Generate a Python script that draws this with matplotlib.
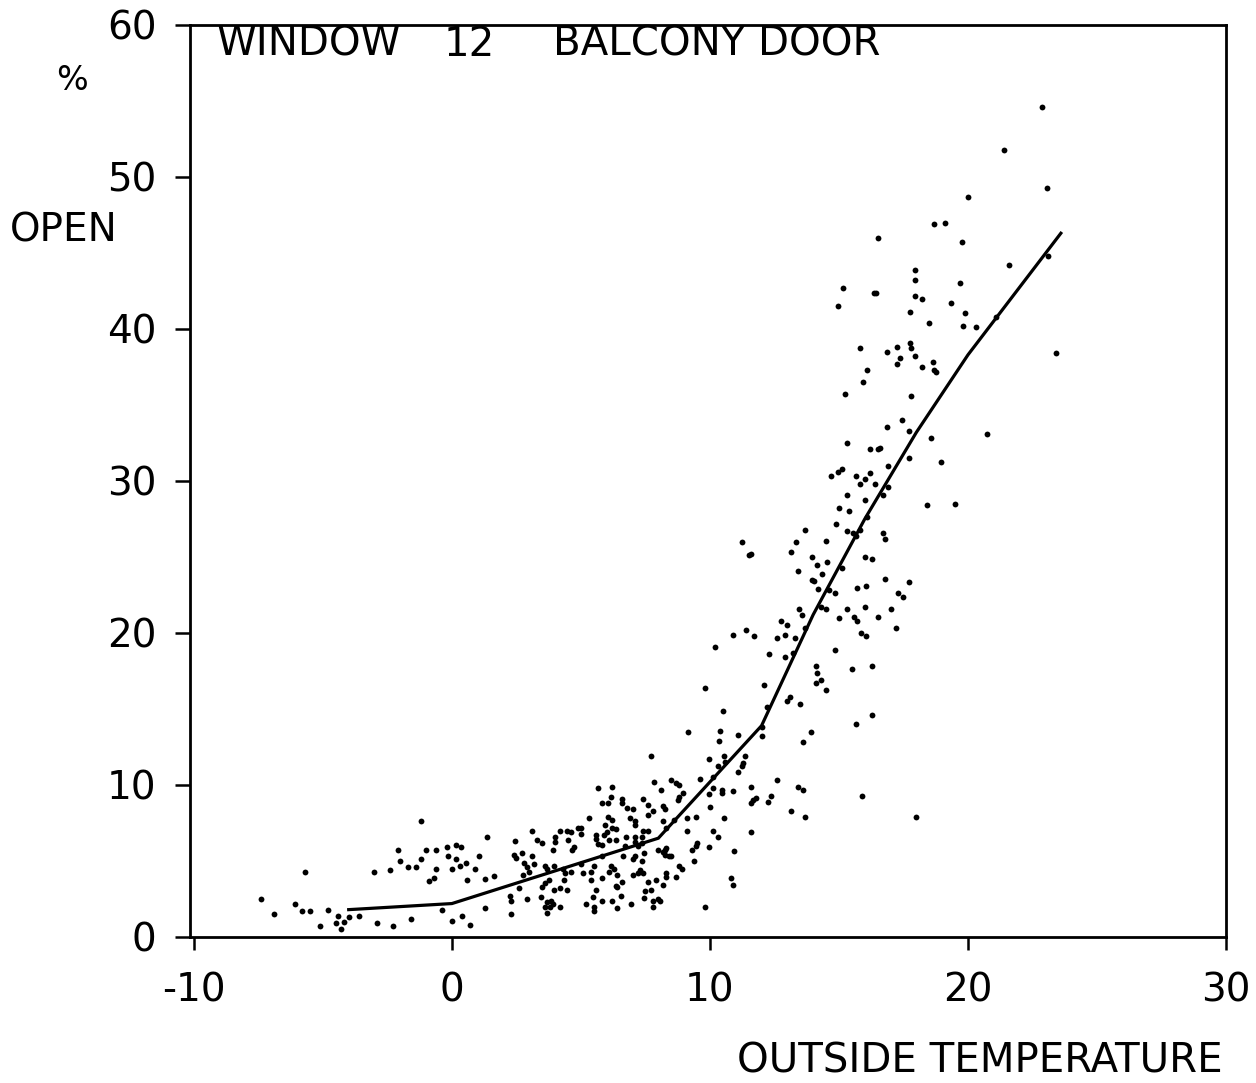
import matplotlib
matplotlib.use("Agg")
import matplotlib.pyplot as plt

# scatter: outside temperature (C) vs. share of time the window is open (%)
temp = [
    -7.4, -6.9, -6.1, -5.8, -5.5, -5.7, -4.8, -4.4, -4.5, -4.2, -4.3, -4.0, -5.1, -3.6, -2.9, -2.3, -1.6,
    -3.0, -2.4, -2.1, -2.0, -1.7, -1.4, -1.2, -1.0, -1.2, -0.6, -0.6, -0.9, -0.7, -0.2, 0.15, 0.35, -0.15,
    0.15, 0.0, 0.3, 0.55, 0.6, 0.9, 1.05, 1.35, 1.3, 1.65, -0.4, 0.0, 0.4, 0.7, 1.3, 2.3, 2.25, 2.3, 2.9, 2.6,
    2.45, 3.1, 2.4, 2.5, 2.7, 2.8, 2.9, 3.3, 3.5, 3.1, 3.2, 2.75, 3.0, 3.6, 3.5, 3.7, 3.6, 3.95, 3.45, 3.7,
    3.6, 3.85, 3.7, 3.9, 4.2, 3.95, 4.2, 4.0, 4.0, 3.9, 4.2, 4.45, 4.6, 4.5, 4.75, 4.65, 4.3, 4.6, 4.4, 5.0,
    5.0, 5.3, 5.6, 5.6, 5.65, 5.8, 5.9, 5.65, 6.2, 5.8, 6.05, 6.15, 5.95, 6.2, 6.2, 6.35, 6.1, 6.35, 6.6, 6.6,
    6.8, 7.0, 6.9, 7.1, 7.1, 6.75, 6.7, 7.1, 7.1, 7.2, 7.35, 7.4, 7.6, 7.8, 7.6, 7.7, 7.85, 8.1, 8.2, 7.4, 7.6,
    7.35, 7.45, 7.1, 7.35, 7.0, 7.2, 7.4, 7.6, 7.9, 7.5, 7.45, 8.05, 6.95, 6.4, 6.4, 6.55, 6.6, 6.4, 6.1, 5.4,
    5.8, 5.4, 5.6, 5.45, 5.5, 5.5, 5.1, 5.0, 5.5, 6.15, 6.3, 8.25, 8.2, 8.3, 8.25, 8.25,
    4.35, 4.45, 3.75, 3.8, 4.9, 5.8, 6.0, 6.05, 5.8, 7.7, 7.8, 7.8, 6.2, 5.2, 6.65, 7.3,
    8.6, 8.3, 8.4, 8.5, 8.2, 8.0, 8.8, 8.9, 8.7, 8.3, 8.3, 8.2, 8.0, 7.0, 6.35,
    8.5, 8.7, 8.8, 8.8, 8.75, 8.95, 9.95, 10.0, 10.1, 10.45, 10.45, 10.9, 11.6, 11.65, 11.8, 11.6, 12.35,
    12.25, 12.6, 13.4, 13.6, 13.15, 13.7, 15.9, 18.0, 10.55, 11.6, 9.1, 9.45, 9.1, 10.1, 10.3, 9.5, 9.45,
    9.3, 9.95, 9.4, 10.95, 10.8, 10.9, 9.8,
    9.95, 10.55, 10.6, 11.35, 11.3, 11.25, 11.1, 10.3, 10.1, 9.6,
    9.15, 10.4, 10.35, 11.1, 12.0, 12.0, 13.9, 13.6, 15.65, 16.3, 10.5, 12.2, 13.5, 13.1, 13.0, 9.8, 12.1,
    14.1, 14.15, 14.3, 14.1, 14.5, 15.5, 16.3, 14.85, 12.3, 12.9, 13.2, 10.2, 10.9, 11.4, 11.7, 12.6, 12.9,
    13.3, 13.7, 12.75, 13.0, 13.45, 13.55, 14.3, 14.5, 15.0, 15.3, 15.6, 15.7, 16.0, 16.5, 17.0, 17.2,
    15.85, 16.05,
    16.85, 17.35, 17.25, 17.95, 18.2, 18.65, 18.7, 18.75, 16.1, 15.95, 15.25, 17.8, 17.45, 16.85, 17.7,
    18.55, 18.95, 15.3, 16.2, 16.5, 16.6, 17.7, 16.9, 15.1, 14.95, 14.7, 15.65, 16.0, 16.2, 15.8, 16.4,
    16.9, 16.7, 15.3, 16.0, 15.0, 15.4, 18.4, 14.9, 16.1, 13.7, 15.3, 15.8, 15.65, 15.55, 16.7, 16.8,
    13.35, 14.5, 13.15, 13.95, 14.55, 14.15, 13.4, 15.1, 16.0, 16.3, 14.35, 13.95, 14.05, 16.8, 17.7,
    14.2, 14.6, 14.85, 15.7, 16.05, 17.3, 17.5, 11.6, 11.25, 11.5,
    22.85, 21.4, 23.05, 20.0, 18.7, 19.1, 16.5, 19.75, 21.6, 23.1, 17.95, 17.95, 19.7, 15.15, 16.35,
    16.45, 14.95, 17.95, 18.2, 19.35, 19.9, 17.75, 19.8, 20.3, 21.1, 18.5, 23.4, 15.8, 17.25, 17.75,
    17.8, 20.75, 19.5,
]
open_pct = [
    2.5, 1.5, 2.2, 1.7, 1.7, 4.3, 1.8, 1.4, 0.9, 1.0, 0.5, 1.3, 0.7, 1.4, 0.9, 0.7, 1.2,
    4.3, 4.4, 5.7, 5.0, 4.6, 4.6, 7.6, 5.7, 5.1, 5.7, 4.5, 3.7, 3.9, 5.9, 6.05, 5.9, 5.3,
    5.1, 4.5, 4.7, 4.9, 3.75, 4.5, 5.3, 6.6, 3.8, 4.0, 1.8, 1.05, 1.4, 0.8, 1.9, 1.5, 2.7, 2.4, 2.5, 3.2,
    6.3, 7.0, 5.4, 5.2, 5.5, 4.9, 4.6, 6.4, 6.2, 5.3, 4.8, 4.1, 4.3, 3.55, 3.3, 4.5, 4.7, 4.7, 2.6, 2.3,
    2.0, 2.4, 1.6, 2.2, 2.0, 3.1, 3.2, 6.6, 6.25, 5.7, 7.0, 7.0, 6.9, 6.4, 5.9, 5.7, 4.5, 4.3, 4.2, 7.2,
    6.8, 7.8, 6.7, 6.45, 6.1, 6.05, 6.7, 9.8, 9.9, 8.8, 8.8, 9.2, 7.4, 7.7, 7.2, 7.1, 6.4, 6.4, 9.1, 8.8,
    8.5, 8.4, 7.8, 7.6, 7.4, 6.6, 6.0, 6.6, 6.25, 6.0, 6.2, 9.1, 8.7, 8.3, 8.0, 11.9, 10.2, 9.7, 8.6, 7.0, 7.0,
    6.6, 5.5, 5.3, 5.0, 5.1, 4.2, 4.2, 3.6, 3.75, 3.0, 2.55, 2.4, 2.2, 1.9, 3.3, 2.7, 3.6, 4.1, 4.3, 4.3,
    3.9, 3.75, 3.1, 2.6, 2.0, 1.7, 4.2, 4.8, 4.7, 4.7, 4.5, 8.4, 7.6, 7.2, 5.7, 5.4,
    3.75, 3.1, 3.75, 2.0, 7.2, 5.3, 6.9, 7.9, 2.4, 3.1, 2.4, 2.0, 2.4, 2.2, 5.3, 4.4,
    7.7, 5.85, 5.3, 5.3, 5.6, 5.7, 4.7, 4.5, 3.95, 4.2, 3.95, 3.4, 2.5, 4.1, 3.35,
    10.3, 10.1, 10.0, 9.2, 9.0, 9.5, 9.4, 8.55, 9.8, 9.7, 9.5, 9.6, 9.9, 9.0, 9.15, 8.8, 9.3,
    8.9, 10.3, 9.9, 9.7, 8.3, 7.9, 9.3, 7.9, 7.8, 6.9, 7.8, 7.9, 7.0, 7.0, 6.6, 6.2, 6.0,
    5.7, 5.9, 5.0, 5.65, 3.9, 3.4, 2.0,
    11.7, 11.9, 11.5, 11.9, 11.45, 11.25, 10.85, 11.25, 10.5, 10.4,
    13.5, 13.55, 12.9, 13.3, 13.8, 13.2, 13.5, 12.8, 14.0, 14.6, 14.9, 15.1, 15.3, 15.8, 15.5, 16.4, 16.6,
    17.8, 17.4, 16.9, 16.7, 16.25, 17.6, 17.8, 18.9, 18.6, 18.4, 18.7, 19.1, 19.9, 20.2, 19.8, 19.7, 19.9,
    19.7, 20.3, 20.8, 20.5, 21.6, 21.2, 21.7, 21.6, 21.0, 21.6, 21.05, 20.8, 21.7, 21.05, 21.6, 20.3,
    20.0, 19.8,
    38.5, 38.1, 37.7, 38.2, 37.5, 37.8, 37.3, 37.2, 37.3, 36.5, 35.7, 35.6, 34.0, 33.55, 33.3,
    32.8, 31.25, 32.5, 32.1, 32.1, 32.2, 31.5, 31.0, 30.8, 30.6, 30.3, 30.3, 30.1, 30.5, 29.8, 29.8,
    29.6, 29.1, 29.1, 28.75, 28.2, 28.0, 28.4, 27.2, 27.6, 26.8, 26.7, 26.8, 26.4, 26.6, 26.6, 26.2,
    26.0, 26.05, 25.3, 25.0, 24.7, 24.5, 24.1, 24.3, 25.0, 24.9, 23.9, 23.5, 23.4, 23.55, 23.35,
    22.9, 22.8, 22.6, 22.95, 23.1, 22.6, 22.4, 25.2, 26.0, 25.1,
    54.6, 51.8, 49.3, 48.7, 46.9, 47.0, 46.0, 45.7, 44.2, 44.8, 43.9, 43.2, 43.0, 42.7, 42.4,
    42.4, 41.5, 42.2, 42.0, 41.7, 41.05, 41.1, 40.2, 40.1, 40.8, 40.4, 38.4, 38.75, 38.8, 39.1,
    38.75, 33.1, 28.5,
]

# fitted piecewise curve
fit_temp = [-4, 0, 8, 12, 14, 16, 18, 20, 23.6]
fit_open = [1.8, 2.2, 6.5, 13.9, 21.2, 27.5, 33.2, 38.3, 46.3]

x_ticks = [-10, 0, 10, 20, 30]
y_ticks = [0, 10, 20, 30, 40, 50, 60]

plt.rcParams['font.family'] = ['DejaVu Sans']
plt.rcParams['axes.unicode_minus'] = False

W, H = 1256, 1083
fig = plt.figure(figsize=(W / 100, H / 100), dpi=100)
ax = fig.add_axes([190 / W, (H - 937) / H, (1226 - 190) / W, (937 - 25) / H])

ax.plot(temp, open_pct, 'o', color='black', markersize=4.2, markeredgewidth=0)
ax.plot(fit_temp, fit_open, color='black', lw=2.3, solid_joinstyle='miter')

ax.set_xlim(-10.15, 30)
ax.set_ylim(0, 60)
ax.set_xticks(x_ticks)
ax.set_yticks(y_ticks)
ax.tick_params(axis='both', direction='out', labelsize=28, width=1.8, colors='black')
ax.tick_params(axis='y', length=11, pad=13)
ax.tick_params(axis='x', length=9, pad=16)
for s in ax.spines.values():
    s.set_linewidth(2.0)

ax.set_xlabel('OUTSIDE TEMPERATURE', fontsize=29, loc='right')
ax.xaxis.set_label_coords(0.997, -0.115)

fig.text(217 / W, 1 - 45 / H, 'WINDOW', fontsize=29, va='center', ha='left')
fig.text(444 / W, 1 - 45 / H, '12', fontsize=29, va='center', ha='left')
fig.text(553 / W, 1 - 45 / H, 'BALCONY DOOR', fontsize=29, va='center', ha='left')
fig.text(72 / W, 1 - 80 / H, '%', fontsize=24, va='center', ha='center')
fig.text(10 / W, 1 - 231 / H, 'OPEN', fontsize=28, va='center', ha='left')

fig.savefig('out.png', dpi=100, facecolor='white')
